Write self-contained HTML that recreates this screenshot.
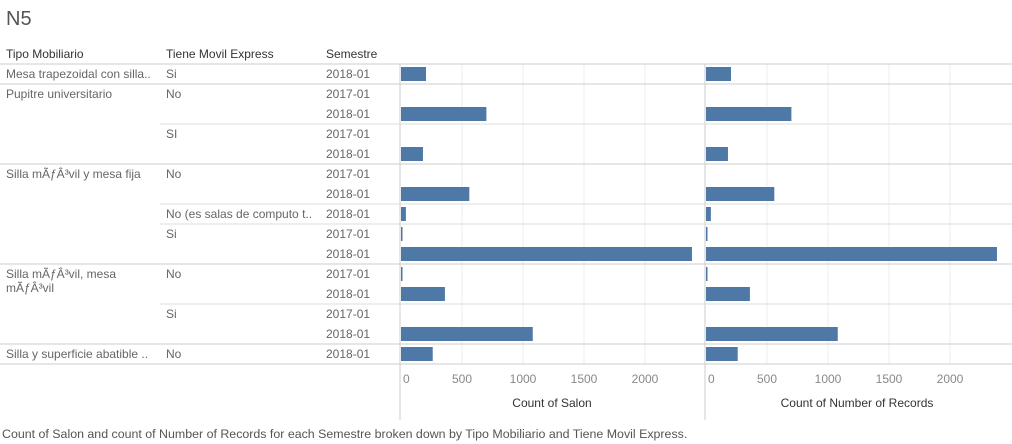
<!DOCTYPE html>
<html><head><meta charset="utf-8"><style>
body{margin:0;width:1012px;height:444px;background:#fff;font-family:"Liberation Sans",sans-serif;overflow:hidden;position:relative}
.t{position:absolute;font-size:12px;color:#666;white-space:nowrap}
.h{position:absolute;font-size:12px;color:#333;white-space:nowrap}
</style></head><body>
<div class="t" style="left:6px;top:8px;font-size:20px;color:#555">N5</div>
<div class="h" style="left:6px;top:47px">Tipo Mobiliario</div>
<div class="h" style="left:166px;top:47px">Tiene Movil Express</div>
<div class="h" style="left:326px;top:47px">Semestre</div>
<svg id="c" width="1012" height="444" style="position:absolute;left:0;top:0"></svg>
<div class="t" style="left:2px;top:427px;font-size:12.4px;color:#555">Count of Salon and count of Number of Records for each Semestre broken down by Tipo Mobiliario and Tiene Movil Express.</div>
<script>
const tipos=["Mesa trapezoidal con silla..","Pupitre universitario","","","","Silla mÃƒÂ³vil y mesa fija","","","","","Silla mÃƒÂ³vil, mesa","","","","Silla y superficie abatible .."];
const moviles=["Si","No","","SI","","No","","No (es salas de computo t..","Si","","No","","Si","","No"];
const semestres=["2018-01","2017-01","2018-01","2017-01","2018-01","2017-01","2018-01","2018-01","2017-01","2018-01","2017-01","2018-01","2017-01","2018-01","2018-01"];
const salon=[205,0,700,0,180,0,560,40,5,2385,3,360,0,1080,260];
const records=[205,0,700,0,180,0,560,40,5,2385,3,360,0,1080,260];
const ticks=[0,500,1000,1500,2000];
const NS="http://www.w3.org/2000/svg",svg=document.getElementById('c');
function mk(t,a,txt){const e=document.createElementNS(NS,t);for(const k in a)e.setAttribute(k,a[k]);if(txt!==undefined)e.textContent=txt;svg.appendChild(e);return e;}
const top0=64,rh=20,sc=0.122;
const panels=[{x0:401,left:400,data:salon,title:"Count of Salon"},{x0:706,left:705,data:records,title:"Count of Number of Records"}];
const y=i=>top0+i*rh;
panels.forEach((p,pi)=>{
 ticks.forEach(t=>{if(t>0){const g=mk('line',{x1:p.x0+t*sc,x2:p.x0+t*sc,y1:top0,y2:364,stroke:'#eee'});
 
 }
 const l=mk('text',{x:p.x0+t*sc+(t==0?2:0),y:383,'font-size':12,fill:'#888','text-anchor':t==0?'start':'middle'},t);
 
 });
 const tt=mk('text',{x:p.left+152,y:407,'font-size':12,fill:'#333','text-anchor':'middle'},p.title);
 
 
 mk('line',{x1:p.left,x2:p.left,y1:top0,y2:420,stroke:'#ccc'});
});
const tipoBreaks=[0,1,5,10,14,15],movBreaks=[3,7,8,12];
tipoBreaks.forEach(i=>mk('line',{x1:0,x2:1012,y1:y(i),y2:y(i),stroke:'#ccc'}));
movBreaks.forEach(i=>mk('line',{x1:160,x2:1012,y1:y(i),y2:y(i),stroke:'#ddd'}));
semestres.forEach((s,i)=>{
 if(tipos[i]){const tx=mk('text',{x:6,y:y(i)+14,'font-size':12,fill:'#666'},tipos[i]);
 
 }
 if(moviles[i]){const m=mk('text',{x:166,y:y(i)+14,'font-size':12,fill:'#666'},moviles[i]);
 
 }
 const st=mk('text',{x:326,y:y(i)+14,'font-size':12,fill:'#666'},s);
 
 
 panels.forEach(p=>{const v=p.data[i];if(v>0){const b=mk('rect',{x:p.x0,y:y(i)+3,width:Math.max(1.5,v*sc),height:14,fill:'#4e79a7'});
 
 }});
});
mk('text',{x:6,y:y(10)+28,'font-size':12,fill:'#666'},"mÃƒÂ³vil");
</script>
</body></html>
